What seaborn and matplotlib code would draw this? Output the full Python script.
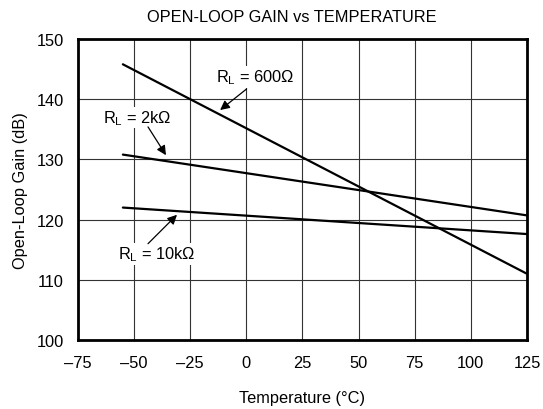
import pandas as pd
import matplotlib.pyplot as plt
import seaborn as sns

# Data
temps = [-55, 125]
gain_600 = [145.8, 111.0]
gain_2k = [130.8, 120.7]
gain_10k = [122.0, 117.6]
loads = ['600', '2k', '10k']

x_ticks = [-75, -50, -25, 0, 25, 50, 75, 100, 125]
x_tick_labels = ['–75', '–50', '–25', '0', '25', '50', '75', '100', '125']
y_ticks = [100, 110, 120, 130, 140, 150]

sns.set_theme(style='white')
plt.rcParams['font.family'] = ['Liberation Sans', 'DejaVu Sans']
plt.rcParams['mathtext.fontset'] = 'custom'
plt.rcParams['mathtext.rm'] = 'Liberation Sans'
plt.rcParams['mathtext.it'] = 'Liberation Sans'
plt.rcParams['text.color'] = 'black'
plt.rcParams['axes.labelcolor'] = 'black'

df = pd.DataFrame({
    'Temperature': temps * 3,
    'Gain': gain_600 + gain_2k + gain_10k,
    'Load': [l for l in loads for _ in temps],
})

fs = 11.8
fig = plt.figure(figsize=(5.43, 4.10), dpi=100)
ax = fig.add_axes([0.1436, 0.1683, 0.8269, 0.7341])

sns.lineplot(data=df, x='Temperature', y='Gain', units='Load', estimator=None,
             color='black', linewidth=1.6, ax=ax, legend=False)

ax.set_xlim(-75, 125)
ax.set_ylim(100, 150)
ax.set_xticks(x_ticks)
ax.set_xticklabels(x_tick_labels)
ax.set_yticks(y_ticks)
ax.tick_params(axis='x', labelsize=fs, length=0, pad=11, colors='black')
ax.tick_params(axis='y', labelsize=fs, length=0, pad=10, colors='black')
ax.grid(True, color='#333333', linewidth=0.8)
ax.set_axisbelow(True)
for s in ax.spines.values():
    s.set_color('black')
    s.set_linewidth(2)

ax.set_xlabel('Temperature (°C)', fontsize=fs, labelpad=14)
ax.set_ylabel('Open-Loop Gain (dB)', fontsize=fs, labelpad=6)
fig.text(0.538, 0.958, 'OPEN-LOOP GAIN vs TEMPERATURE', ha='center', va='center', fontsize=fs)

arrow = dict(arrowstyle='-|>', color='black', lw=0.9, mutation_scale=14, shrinkA=0, shrinkB=0)
ax.text(3.8, 143.7, r'$\mathregular{R_L}$ = 600Ω', ha='center', va='center', fontsize=fs,
        bbox=dict(facecolor='white', edgecolor='none', pad=1))
ax.annotate('', xy=(-11.7, 138.2), xytext=(0.1, 141.7), arrowprops=arrow)
ax.text(-48.7, 137.0, r'$\mathregular{R_L}$ = 2kΩ', ha='center', va='center', fontsize=fs,
        bbox=dict(facecolor='white', edgecolor='none', pad=1))
ax.annotate('', xy=(-35.8, 130.7), xytext=(-43.8, 135.4), arrowprops=arrow)
ax.text(-39.8, 114.3, r'$\mathregular{R_L}$ = 10kΩ', ha='center', va='center', fontsize=fs,
        bbox=dict(facecolor='white', edgecolor='none', pad=1))
ax.annotate('', xy=(-30.9, 120.8), xytext=(-43.8, 116.0), arrowprops=arrow)

fig.savefig('out.png', dpi=100, facecolor='white')
